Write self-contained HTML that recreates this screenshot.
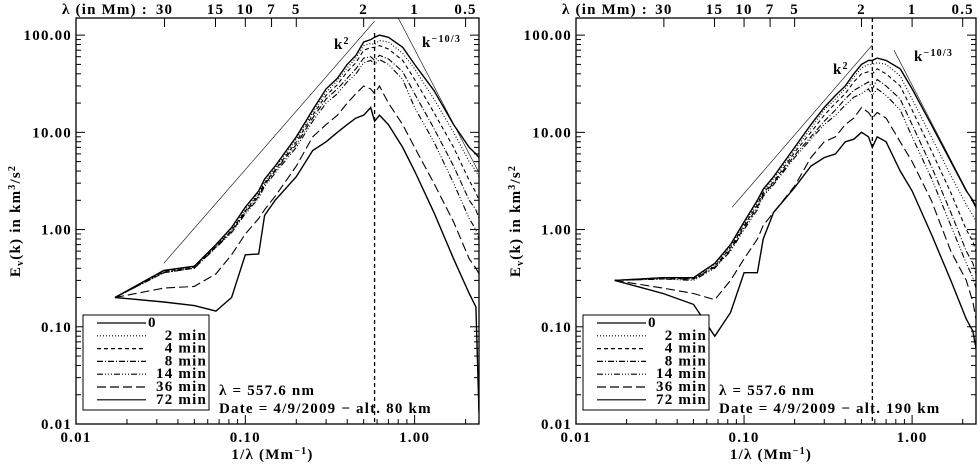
<!DOCTYPE html>
<html><head><meta charset="utf-8"><style>
body{margin:0;background:#fff}
svg text{font-family:"Liberation Serif",serif;font-weight:bold;fill:#000;letter-spacing:1.2px}
</style></head><body>
<svg id="c" width="980" height="464" xmlns="http://www.w3.org/2000/svg"></svg>
<script>
const K=[0.017,0.033,0.05,0.067,0.083,0.1,0.12,0.13,0.15,0.2,0.25,0.3,0.35,0.4,0.45,0.5,0.55,0.58,0.62,0.7,0.85,1.0,1.3,1.7,2.1,2.3,2.4];
const seriesNames=["0","2 min","4 min","8 min","14 min","36 min","72 min"];
const L0=[0.2,0.38,0.42,0.7,1.05,1.7,2.5,3.3,4.5,9,17,28,36,50,62,85,90,95,100,95,75,50,27,12,7,6,5.5];
const L2=[0.2,0.37,0.41,0.68,1.0,1.6,2.4,3.1,4.3,8.5,16,26,34,46,58,78,82,80,88,85,65,45,22,10,5,4,3.5];
const L4=[0.2,0.37,0.41,0.67,0.98,1.55,2.3,3.0,4.1,8,15,24,31,42,52,70,74,75,78,72,55,35,16,7,3.2,2.4,2];
const L8=[0.2,0.36,0.4,0.66,0.95,1.5,2.2,2.9,4,7.5,14,22,28,36,45,58,60,55,62,57,42,25,11,4.5,2,1.6,1.3];
const L14=[0.2,0.36,0.4,0.65,0.93,1.45,2.1,2.8,3.8,7,13,20,25,33,40,52,55,50,56,50,35,18,8,3,1.3,1,0.8];
const L36=[0.2,0.25,0.26,0.35,0.55,0.9,1.3,1.6,2.2,4.5,9,12,15,20,25,30,28,25,30,20,12,7,3,1.2,0.5,0.4,0.35];
const L72=[0.2,0.18,0.165,0.145,0.2,0.55,0.56,1.4,2,3.5,6.5,8,10,12,14,15,18,13,15,12,7,4,1.5,0.5,0.22,0.16,0.013];
const R0=[0.3,0.32,0.32,0.45,0.7,1.2,2,2.6,3.5,7,12,18,24,30,40,50,55,55,58,55,45,28,12,5,2.5,2,1.7];
const R2=[0.3,0.32,0.32,0.43,0.67,1.15,1.9,2.5,3.3,6.6,11,17,22,28,37,46,50,50,52,50,38,22,9,3.6,1.8,1.4,1.2];
const R4=[0.3,0.32,0.31,0.42,0.65,1.1,1.8,2.4,3.1,6.2,10,15,20,25,33,40,42,40,45,40,30,17,6.5,2.4,1,0.75,0.6];
const R8=[0.3,0.31,0.31,0.41,0.62,1.05,1.7,2.3,3,5.8,9,13,17,22,27,30,33,28,35,30,22,12,4.5,1.5,0.6,0.45,0.35];
const R14=[0.3,0.31,0.3,0.4,0.6,1.0,1.6,2.2,2.9,5.5,8.5,12,15,19,23,25,28,24,28,24,17,9,3.4,1.1,0.45,0.32,0.25];
const R36=[0.3,0.25,0.22,0.19,0.3,0.5,0.8,1.1,1.5,2.8,5.5,8,9,12,14,18,16,14,16,14,8,5,2,0.6,0.3,0.18,0.12];
const R72=[0.3,0.22,0.17,0.08,0.14,0.36,0.36,0.8,1.5,2.7,4.5,5.5,6,8,8.5,10,9,7,9,8,4,2.5,0.9,0.3,0.12,0.09,0.06];
const xTicks=[0.01,0.1,1];
const xTickLabels=["0.01","0.10","1.00"];
const yTicks=[0.01,0.1,1,10,100];
const yTickLabels=["0.01","0.10","1.00","10.00","100.00"];
const lamTicks=[30,15,10,7,5,2,1,0.5];
const kPeak=0.58;
const dashes=["","1,2","4,3","6,2,1,2","6,2,1,2,1,2,1,2","9,4",""];
const NS="http://www.w3.org/2000/svg";
const svg=document.getElementById("c");
function mk(tag,attrs,parent){const e=document.createElementNS(NS,tag);for(const k in attrs)e.setAttribute(k,attrs[k]);(parent||svg).appendChild(e);return e;}

function panel(id,x0,x1,series,k2,k103,alt,k2lab,kmlab,legX){
  const y0=18,y1=424,dec=(x1-x0)/Math.log10(2.4/0.01),ydec=(y1-y0)/Math.log10(150/0.01);
  const X=v=>x0+Math.log10(v/0.01)*dec;
  const Y=v=>y1-Math.log10(v/0.01)*ydec;
  const g=mk("g",{});
  
  
  const cp=mk("clipPath",{id:id+"clip"},g);mk("rect",{x:x0,y:y0,width:x1-x0,height:y1-y0},cp);
  const fr=mk("rect",{x:x0,y:y0,width:x1-x0,height:y1-y0,fill:"none",stroke:"#000","stroke-width":1.3},g);
  
  
  for(let d=0.01;d<3;d*=10){for(let m=1;m<10;m++){const v=d*m;if(v>2.4)break;const x=X(v),l=m==1?9:5;
    mk("line",{x1:x,x2:x,y1:y1,y2:y1-l,stroke:"#000"},g);}}
  xTicks.forEach((v,i)=>{const t=mk("text",{x:X(v),y:442,"text-anchor":"middle","font-size":15},g);t.textContent=xTickLabels[i];
    });
  for(let d=0.01;d<200;d*=10){for(let m=1;m<10;m++){const v=d*m;if(v>150)break;const y=Y(v),l=m==1?9:5;
    mk("line",{x1:x0,x2:x0+l,y1:y,y2:y,stroke:"#000"},g);mk("line",{x1:x1,x2:x1-l,y1:y,y2:y,stroke:"#000"},g);}}
  yTicks.forEach((v,i)=>{const t=mk("text",{x:x0-4,y:Y(v)+5,"text-anchor":"end","font-size":15},g);t.textContent=yTickLabels[i];
    });
  lamTicks.forEach(l=>{const x=X(1/l);mk("line",{x1:x,x2:x,y1:y0,y2:y0+9,stroke:"#000"},g);
    const t=mk("text",{x:x,y:14,"text-anchor":"middle","font-size":15},g);t.textContent=String(l);
    });
  const tl=mk("text",{x:x0-14,y:14,"font-size":15},g);tl.textContent="λ (in Mm) :";
  
  const xt=mk("text",{x:(x0+x1)/2-5,y:459,"text-anchor":"middle","font-size":15},g);
  xt.innerHTML='1/λ (Mm<tspan dy="-5" font-size="10">−1</tspan><tspan dy="5">)</tspan>';
  
  const yt=mk("text",{transform:`translate(${x0-56},221) rotate(-90)`,"text-anchor":"middle","font-size":15},g);
  yt.innerHTML='E<tspan dy="3" font-size="10">v</tspan><tspan dy="-3">(k) in km</tspan><tspan dy="-5" font-size="10">3</tspan><tspan dy="5">/s</tspan><tspan dy="-5" font-size="10">2</tspan>';
  
  const cg=mk("g",{"clip-path":`url(#${id}clip)`},g);
  const p1=mk("line",{x1:X(k2[0]),y1:Y(k2[1]),x2:X(k2[2]),y2:Y(k2[1]*Math.pow(k2[2]/k2[0],2)),stroke:"#000","stroke-width":0.6},cg);
  
  const p2=mk("line",{x1:X(k103[0]),y1:Y(k103[1]),x2:X(k103[2]),y2:Y(k103[1]*Math.pow(k103[2]/k103[0],-10/3)),stroke:"#000","stroke-width":0.6},cg);
  
  const pl=mk("line",{x1:X(kPeak),x2:X(kPeak),y1:y0+(id=="left"?15:0),y2:y1,stroke:"#000","stroke-width":1.3,"stroke-dasharray":"4,3"},cg);
  
  series.forEach((s,i)=>{const d=K.map((k,j)=>(j?"L":"M")+X(k).toFixed(1)+","+Y(s[j]).toFixed(1)).join("");
    const p=mk("path",{d:d,fill:"none",stroke:"#000","stroke-width":i==6||i==0?1.4:1.1,"stroke-dasharray":dashes[i]},cg);
    });
  let t=mk("text",{x:k2lab[0],y:k2lab[1],"font-size":15},g);t.innerHTML='k<tspan dy="-5" font-size="10">2</tspan>';
  
  t=mk("text",{x:kmlab[0],y:kmlab[1],"font-size":15},g);t.innerHTML='k<tspan dy="-5" font-size="10">−10/3</tspan>';
  
  const lg=mk("g",{},g);
  mk("rect",{x:legX,y:315,width:126,height:95,fill:"#fff",stroke:"#000","stroke-width":1},lg);
  seriesNames.forEach((n,i)=>{const y=327+i*12.8;
    const ln=mk("line",{x1:legX+14,x2:legX+63,y1:y-4,y2:y-4,stroke:"#000","stroke-width":1.2,"stroke-dasharray":dashes[i]},lg);
    
    const tx=mk("text",i==0?{x:legX+65,y:y,"font-size":15}:{x:legX+124,y:y,"font-size":15,"text-anchor":"end"},lg);tx.textContent=n;
    });
  t=mk("text",{x:legX+136,y:395,"font-size":15},g);t.textContent="λ = 557.6 nm";
  
  t=mk("text",{x:legX+136,y:413,"font-size":15},g);t.textContent="Date = 4/9/2009 − alt. "+alt+" km";
  
}
panel("left",76,479,[L0,L2,L4,L8,L14,L36,L72],[0.033,0.45,0.58],[0.8,150,2.4],"80",[334,49],[422,47],83);
panel("right",576,976,[R0,R2,R4,R8,R14,R36,R72],[0.085,1.7,0.58],[0.78,70,2.4],"190",[833,74],[914,61],583);
</script>
</body></html>
